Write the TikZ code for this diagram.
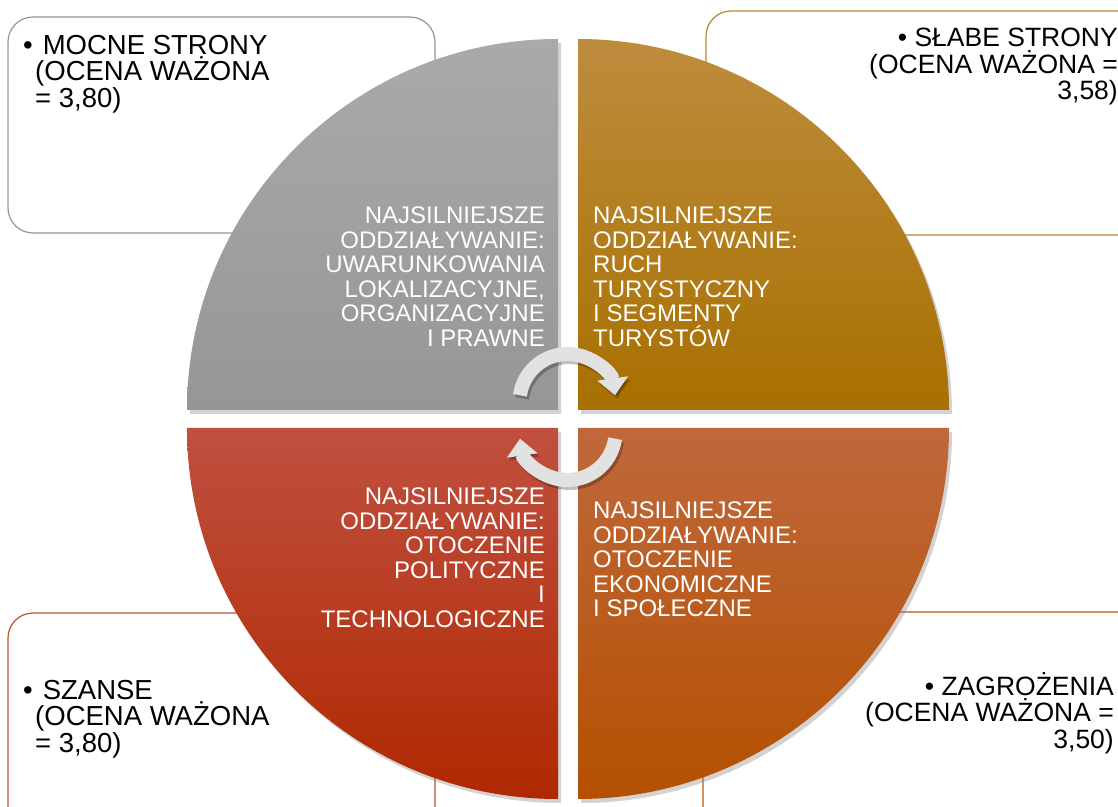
\documentclass[tikz,border=0pt]{standalone}
\usepackage{fontspec}
\setmainfont{Liberation Sans}
\usetikzlibrary{arrows.meta, shadows}

\definecolor{mocnegray}{RGB}{150,150,150}
\definecolor{slabegold}{RGB}{184,134,40}
\definecolor{szansered}{RGB}{192,80,40}
\definecolor{zagrozorange}{RGB}{180,90,20}
\definecolor{arrowgray}{RGB}{226,226,226}

\begin{document}
\begin{tikzpicture}[x=1pt, y=1pt,
	box/.style={rounded corners=25pt, fill=white, line width=1.2pt},
	boxtext/.style={inner sep=0pt, font=\fontsize{27.5}{26.5}\selectfont},
	boxtextright/.style={boxtext, font=\fontsize{26.5}{26.5}\selectfont},
	quartertext/.style={inner sep=0pt, text=white, font=\fontsize{24}{24.5}\selectfont},
	quarter/.style={drop shadow={shadow xshift=3pt, shadow yshift=-4pt, opacity=.35}},
	cyclearrow/.style={line width=14pt, draw=arrowgray, -{Triangle[length=17pt, width=30pt]}},
	cycleshadow/.style={cyclearrow, draw=black, draw opacity=.25, fill opacity=.25}]
	\useasboundingbox (0,0) rectangle (1118,806);
	\draw[box, draw=mocnegray] (8,573) rectangle (435,789);
	\draw[box, draw=slabegold] (706,571) rectangle (1150,795);
	\draw[box, draw=szansered] (8,-30) rectangle (435,193);
	\draw[box, draw=zagrozorange] (703,-30) rectangle (1150,194);
	\shade[quarter, top color={rgb,255:red,170;green,170;blue,170}, bottom color={rgb,255:red,150;green,150;blue,150}]
		(558,396) -- ++(-371,0) arc (180:90:371) -- cycle;
	\shade[quarter, top color={rgb,255:red,190;green,140;blue,62}, bottom color={rgb,255:red,168;green,112;blue,0}]
		(578,396) -- ++(0,371) arc (90:0:371) -- cycle;
	\shade[quarter, top color={rgb,255:red,192;green,80;blue,64}, bottom color={rgb,255:red,176;green,40;blue,0}]
		(558,378) -- ++(-371,0) arc (180:270:371) -- cycle;
	\shade[quarter, top color={rgb,255:red,192;green,104;blue,60}, bottom color={rgb,255:red,180;green,80;blue,0}]
		(578,378) -- ++(0,-371) arc (270:360:371) -- cycle;
	\node[boxtext, anchor=north west, align=left] (mocne) at (23,771)
		{\textbullet\hspace{10pt}MOCNE STRONY\\\hspace*{12pt}(OCENA WAŻONA\\\hspace*{12pt}= 3,80)};
	\node[boxtextright, anchor=north east, align=right] (slabe) at (1118,778)
		{\textbullet\ SŁABE STRONY\\(OCENA WAŻONA =\\3,58)};
	\node[boxtext, anchor=north west, align=left] (szanse) at (23,126)
		{\textbullet\hspace{10pt}SZANSE\\\hspace*{12pt}(OCENA WAŻONA\\\hspace*{12pt}= 3,80)};
	\node[boxtextright, anchor=north east, align=right] (zagrozenia) at (1114,134)
		{\textbullet\ ZAGROŻENIA\\(OCENA WAŻONA =\\3,50)};
	\node[quartertext, anchor=north east, align=right] (mocnein) at (545,599)
		{NAJSILNIEJSZE\\ODDZIAŁYWANIE:\\UWARUNKOWANIA\\LOKALIZACYJNE,\\ORGANIZACYJNE\\I PRAWNE};
	\node[quartertext, anchor=north west, align=left] (slabein) at (593,599)
		{NAJSILNIEJSZE\\ODDZIAŁYWANIE:\\RUCH\\TURYSTYCZNY\\I SEGMENTY\\TURYSTÓW};
	\node[quartertext, anchor=north east, align=right] (szansein) at (545,318)
		{NAJSILNIEJSZE\\ODDZIAŁYWANIE:\\OTOCZENIE\\POLITYCZNE\\I\\TECHNOLOGICZNE};
	\node[quartertext, anchor=north west, align=left] (zagrozin) at (593,304)
		{NAJSILNIEJSZE\\ODDZIAŁYWANIE:\\OTOCZENIE\\EKONOMICZNE\\I SPOŁECZNE};
	\coordinate (hubtop) at (567.5,404);
	\coordinate (hubbottom) at (567.5,374);
	\draw[cycleshadow] ([shift={(172:48)}]hubtop) ++(2,-3) arc (172:8:48);
	\draw[cycleshadow] ([shift={(-8:48)}]hubbottom) ++(2,-3) arc (-8:-172:48);
	\draw[cyclearrow] ([shift={(172:48)}]hubtop) arc (172:8:48);
	\draw[cyclearrow] ([shift={(-8:48)}]hubbottom) arc (-8:-172:48);
\end{tikzpicture}
\end{document}
